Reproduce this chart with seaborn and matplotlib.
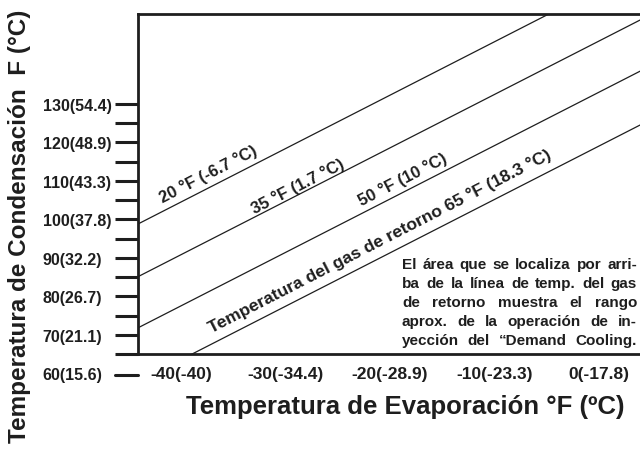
import numpy as np
import pandas as pd
import seaborn as sns
import matplotlib.pyplot as plt

# Datos (temperaturas en F)
evap = [-50, -40, -30, -20, -10, 0, 10]
cond_20 = [90.6, 104.5, 118.4, 132.3, 146.2, 160.1, 174.0]
cond_35 = [76.9, 90.8, 104.7, 118.6, 132.5, 146.4, 160.3]
cond_50 = [63.6, 77.5, 91.4, 105.3, 119.2, 133.1, 147.0]
cond_65 = [49.6, 63.5, 77.4, 91.3, 105.2, 119.1, 133.0]

xticks = [-40, -30, -20, -10, 0]
xlabels = ['-40(-40)', '-30(-34.4)', '-20(-28.9)', '-10(-23.3)', '0(-17.8)']
yticks = [70, 80, 90, 100, 110, 120, 130]
ylabels = ['70(21.1)', '80(26.7)', '90(32.2)', '100(37.8)', '110(43.3)', '120(48.9)', '130(54.4)']

nota = ['El área que se localiza por arri-',
        'ba de la línea de temp. del gas',
        'de retorno muestra el rango',
        'aprox. de la operación de in-',
        'yección del “Demand Cooling.']

df = pd.DataFrame({
    'evap': evap * 4,
    'cond': cond_20 + cond_35 + cond_50 + cond_65,
    'linea': ['20'] * 7 + ['35'] * 7 + ['50'] * 7 + ['65'] * 7,
})

sns.set_style('white')
plt.rcParams['font.family'] = ['Liberation Sans', 'DejaVu Sans']
plt.rcParams['font.weight'] = 'bold'
tc = '#1e1e1e'

fig = plt.figure(figsize=(6.4, 4.52), dpi=100)
ax = fig.add_axes([138 / 640, 1 - 355 / 452, 1 - 138 / 640, 340 / 452])

sns.lineplot(data=df, x='evap', y='cond', units='linea', estimator=None,
             color=tc, linewidth=0.9, ax=ax)

ax.set_xlim(-44.1, 3.9)
ax.set_ylim(65.05, 153.4)

for s in ['top', 'left', 'bottom']:
    ax.spines[s].set_color(tc)
    ax.spines[s].set_linewidth(2)
ax.spines['right'].set_visible(False)

ax.set_xticks(xticks)
ax.set_xticklabels(xlabels, fontsize=12.5, fontweight='bold', color=tc)
ax.tick_params(axis='x', length=0, pad=9)

ax.set_yticks(yticks)
ax.set_yticklabels(ylabels, fontsize=11.5, fontweight='bold', color=tc)
ax.set_yticks(np.arange(65, 131, 10), minor=True)
ax.tick_params(axis='y', which='both', direction='out', length=16.5, width=2.2,
               color=tc, left=True, pad=52)
for lbl in ax.get_yticklabels():
    lbl.set_horizontalalignment('left')

# marca de 60 por debajo del eje
tr = ax.get_yaxis_transform()
ax.plot([-23 / 502, 0], [59.6, 59.6], transform=tr, clip_on=False, color=tc, lw=2.2)
ax.text(-96 / 502, 59.6, '60(15.6)', transform=tr, fontsize=11.5, fontweight='bold',
        color=tc, ha='left', va='center')

ax.set_xlabel('')
ax.set_ylabel('')

fig.text(405 / 640, 1 - 407 / 452, 'Temperatura de Evaporación °F (ºC)',
         fontsize=18.5, fontweight='bold', color=tc, ha='center', va='center')
fig.text(20 / 640, 0.5, 'Temperatura de Condensación  F (°C)', rotation=90,
         fontsize=17.5, fontweight='bold', color=tc, ha='center', va='center')

# etiquetas de las lineas
rot = 27.2
kw = dict(fontweight='bold', color=tc, rotation=rot,
          rotation_mode='anchor', ha='center', va='center')
ax.text(-37.4, 112.0, '20 °F (-6.7 °C)', fontsize=12, **kw)
ax.text(-28.8, 108.8, '35 °F (1.7 °C)', fontsize=12, **kw)
ax.text(-18.8, 110.5, '50 °F (10 °C)', fontsize=12, **kw)
ax.text(-21.0, 94.6, 'Temperatura del gas de retorno 65 °F (18.3 °C)', fontsize=12.6, **kw)

# nota justificada
renderer = fig.canvas.get_renderer()
x0, x1 = 402 / 640, 637 / 640
for i, linea in enumerate(nota):
    y = 1 - (265 + i * 19) / 452
    words = linea.split()
    txts = [fig.text(0, y, w, fontsize=11, fontweight='bold', color=tc, va='center')
            for w in words]
    widths = [t.get_window_extent(renderer).width / fig.bbox.width for t in txts]
    gap = ((x1 - x0) - sum(widths)) / (len(words) - 1)
    x = x0
    for t, w in zip(txts, widths):
        t.set_x(x)
        x += w + gap

fig.savefig('out.png', dpi=100)
